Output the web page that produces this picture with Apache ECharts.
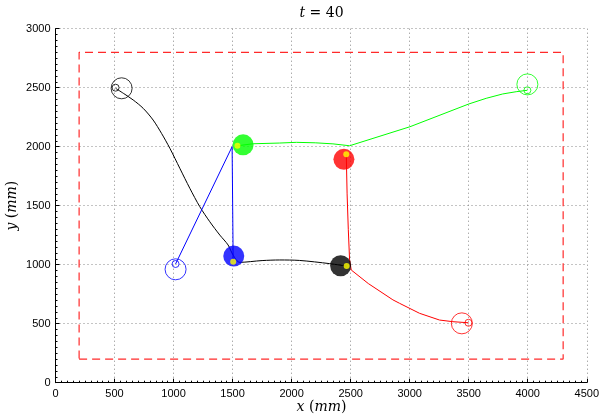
<!DOCTYPE html>
<html><head><meta charset="utf-8">
<script src="https://cdn.jsdelivr.net/npm/echarts@6/dist/echarts.min.js"></script>
<style>html,body{margin:0;padding:0;background:#fff}#c{width:602px;height:418px}</style>
</head><body><div id="c"></div>
<script>
// ---- data ----
const xTicks = [0,500,1000,1500,2000,2500,3000,3500,4000,4500];
const yTicks = [0,500,1000,1500,2000,2500,3000];
const arena = [[200,200],[4300,200],[4300,2800],[200,2800],[200,200]];
const blackPath = [[509,2495],[574,2453],[658,2396],[743,2325],[827,2226],[898,2113],[969,1986],[1053,1817],[1138,1647],[1222,1492],[1307,1364],[1392,1251],[1462,1167],[1505,1080],[1561,1020],[1750,1035],[1899,1040],[2068,1036],[2322,1009],[2466,988]];
const bluePath = [[1017,1006],[1496,2000],[1505,1025]];
const greenPath = [[1541,2008],[1674,2025],[1899,2031],[2040,2037],[2200,2033],[2350,2024],[2491,2008],[3002,2169],[3501,2362],[3648,2410],[3788,2447],[3902,2466],[3997,2478]];
const redPath = [[2463,1935],[2470,1600],[2480,1300],[2491,1040],[2505,955],[2650,840],[2858,702],[2914,673],[3084,588],[3253,531],[3366,517],[3498,508]];
const robotNames = ['black','blue','green','red'];
const robotPos = [[2415,991],[1510,1073],[1589,2016],[2443,1893]];
const robotHead = [[2466,988],[1505,1025],[1541,2008],[2463,1935]];
const goalBig = [[560,2495],[1017,961],[3997,2528],[3442,503]];
const goalSmall = [[509,2500],[1017,1006],[3997,2478],[3498,508]];
const titleTime = 40;

// ---- chart ----
const colors = {black:'#000000', blue:'#0000ff', green:'#00ff00', red:'#ff0000'};
const chart = echarts.init(document.getElementById('c'), null, {renderer:'canvas'});
const pathList = [blackPath, bluePath, greenPath, redPath];
const series = [];
series.push({type:'line', data:arena, symbol:'none', silent:true,
  lineStyle:{color:'#ff2a2a', width:1.2, type:[8,5]}, z:2});
pathList.forEach((p,i)=>{
  series.push({type:'line', data:p, symbol:'none', silent:true, smooth: i===0 ? 0.3 : false,
    lineStyle:{color:colors[robotNames[i]], width:1}, z:3});
});
series.push({type:'scatter', silent:true, z:4, symbolSize:21,
  data: goalBig.map((d,i)=>({value:d, itemStyle:{color:'rgba(0,0,0,0)', borderColor:colors[robotNames[i]], borderWidth:1}}))});
series.push({type:'scatter', silent:true, z:4, symbolSize:7,
  data: goalSmall.map((d,i)=>({value:d, itemStyle:{color:'rgba(0,0,0,0)', borderColor:colors[robotNames[i]], borderWidth:1}}))});
series.push({type:'scatter', silent:true, z:5, symbolSize:21,
  data: robotPos.map((d,i)=>({value:d, itemStyle:{color:colors[robotNames[i]]}}))});
series.push({type:'scatter', silent:true, z:6, symbolSize:6,
  data: robotHead.map(d=>({value:d, itemStyle:{color:'#ffff00'}}))});

const gridLeft=55.5, gridRight=14.5, gridTop=28.7, gridBottom=35.3;
const tickFont = {fontFamily:'Liberation Sans', fontSize:11, color:'#000', formatter:(v)=>String(v)};
const mathRich = {i:{fontStyle:'italic', fontFamily:'DejaVu Serif', fontSize:14}};
chart.setOption({
  animation:false,
  grid:{left:gridLeft, right:gridRight, top:gridTop, bottom:gridBottom, containLabel:false},
  xAxis:{type:'value', min:xTicks[0], max:xTicks[xTicks.length-1], interval:500,
    axisLine:{onZero:false, lineStyle:{color:'#000', width:1}},
    axisTick:{inside:true, length:4, lineStyle:{color:'#000'}},
    minorTick:{show:true, splitNumber:10, length:2, lineStyle:{color:'#000'}},
    axisLabel:Object.assign({margin:6}, tickFont),
    splitLine:{show:true, lineStyle:{color:'#888', width:1, type:[1,3]}}},
  yAxis:{type:'value', min:yTicks[0], max:yTicks[yTicks.length-1], interval:500,
    axisLine:{show:true, onZero:false, lineStyle:{color:'#000', width:1}},
    axisTick:{show:true, inside:true, length:4, lineStyle:{color:'#000'}},
    minorTick:{show:true, splitNumber:10, length:2, lineStyle:{color:'#000'}},
    axisLabel:Object.assign({margin:5}, tickFont),
    splitLine:{show:true, lineStyle:{color:'#888', width:1, type:[1,3]}}},
  graphic:[
    {type:'text', x:321.5, y:13, style:{text:'{i|t} = '+titleTime, rich:mathRich, fontFamily:'DejaVu Serif', fontSize:14, fill:'#000', align:'center', verticalAlign:'middle'}},
    {type:'text', x:321.5, y:407, style:{text:'{i|x} ({i|mm})', rich:mathRich, fontFamily:'DejaVu Serif', fontSize:14, fill:'#000', align:'center', verticalAlign:'middle'}},
    {type:'text', x:12, y:205.7, rotation:Math.PI/2, style:{text:'{i|y} ({i|mm})', rich:mathRich, fontFamily:'DejaVu Serif', fontSize:14, fill:'#000', align:'center', verticalAlign:'middle'}}
  ],
  series:series
});
</script></body></html>
